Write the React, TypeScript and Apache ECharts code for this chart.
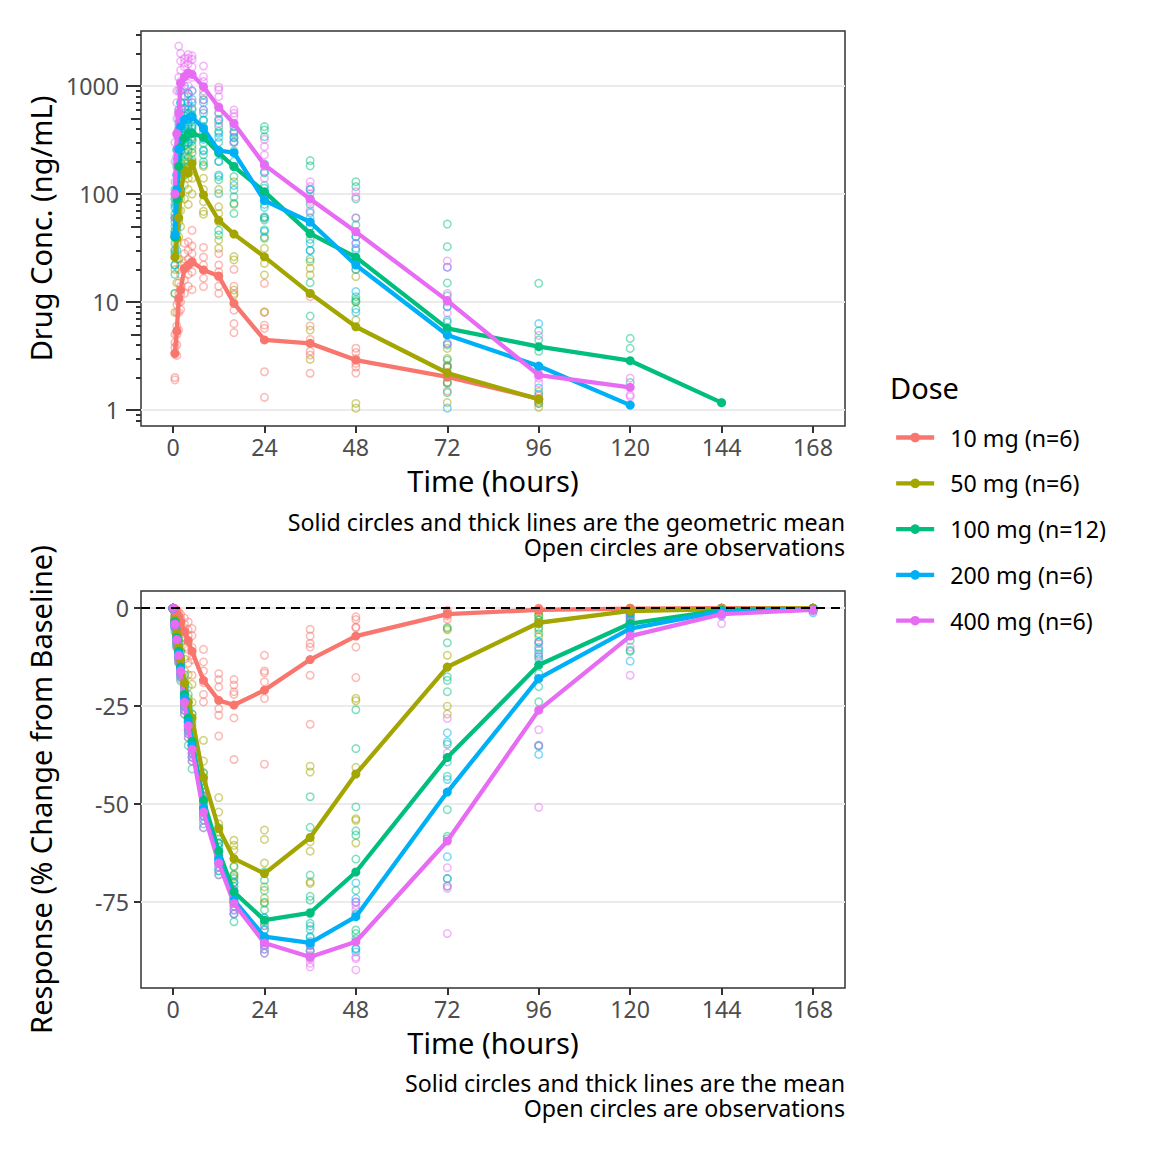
import React, { useEffect, useRef } from "react";
import * as echarts from "echarts";

const FONT = "Noto Sans";

const doseLabels = ["10 mg (n=6)", "50 mg (n=6)", "100 mg (n=12)", "200 mg (n=6)", "400 mg (n=6)"];
const doseColors = ["#F8766D", "#A3A500", "#00BF7D", "#00B0F6", "#E76BF3"];

const xTicks = [0, 24, 48, 72, 96, 120, 144, 168];
const pkMajorTicks = [1, 10, 100, 1000];
const pkMidTicks = [5, 50, 500];
const pkMinorTicks = [0.8, 0.9, 2, 3, 4, 6, 7, 8, 9, 20, 30, 40, 60, 70, 80, 90, 200, 300, 400, 600, 700, 800, 900, 2000, 3000];
const pdTicks = [-75, -50, -25, 0];

// ---------- PK (top) ----------
const pkTimes = [0.5, 1, 1.5, 2, 3, 4, 5, 8, 12, 16, 24, 36, 48, 72, 96, 120, 144];

const pkMean10 = [3.35, 5.4, 10.8, 12.9, 20.5, 22, 23.6, 19.8, 17.4, 9.7, 4.45, 4.14, 2.9, 2.03, 1.27];
const pkMean50 = [26, 39, 60, 100, 167, 156, 192, 98, 57, 42.5, 26.2, 12, 5.9, 2.2, 1.26];
const pkMean100 = [40, 90, 180, 270, 330, 360, 365, 335, 240, 179, 105, 43, 26, 5.7, 3.86, 2.86, 1.17];
const pkMean200 = [42, 110, 260, 420, 490, 500, 520, 404, 252, 241, 87, 55, 22, 4.95, 2.55, 1.11];
const pkMean400 = [100, 364, 560, 1060, 1220, 1320, 1280, 984, 636, 450, 186, 90, 44.6, 10.3, 2.1, 1.62];

const pkObs10 = [
  [1.9, 2.0, 3.3, 3.8, 4.2, 5.0],
  [3.2, 4.0, 5.0, 6.0, 8.0, 9.5],
  [5.5, 8.0, 10, 12, 15, 20],
  [8.5, 10, 12, 14, 18, 22],
  [12, 16, 20, 23, 28, 35],
  [14, 18, 22, 25, 30, 36],
  [13, 19, 23, 28, 33, 46],
  [13.9, 16.6, 19.8, 22, 26, 32],
  [12, 14, 17, 19, 22, 28],
  [5.2, 6.3, 8.4, 12, 14, 20],
  [1.31, 2.26, 5.7, 6.1, 8, 14.9],
  [2.19, 3.23, 3.5, 4.5, 6, 11.2],
  [2.2, 2.5, 2.7, 3.0, 3.4, 3.73],
  [1.5, 1.8, 2.0, 2.2, 2.5, 2.6],
  [1.15, 1.25, 1.35],
];
const pkObs50 = [
  [8, 12, 20, 30, 45, 60],
  [15, 25, 35, 50, 60, 80],
  [25, 40, 55, 70, 90, 120],
  [50, 70, 90, 110, 140, 180],
  [90, 120, 150, 180, 220, 280],
  [80, 110, 140, 170, 200, 250],
  [100, 140, 170, 210, 260, 330],
  [65, 69, 85, 110, 140, 180],
  [31.4, 37.5, 55, 66, 76, 110],
  [11.6, 12.9, 24.5, 26.3, 80, 130],
  [8.1, 17.8, 22.8, 31.4, 40, 60],
  [2.94, 5.5, 12, 17.8, 20.5, 23.6],
  [1.04, 1.15, 6.8, 10, 17.2, 20],
  [1.17, 1.8, 2.1, 2.52, 3.0, 3.72],
  [1.06, 1.2, 1.48],
];
const pkObs100 = [
  [12, 18, 22, 28, 35, 40, 45, 55, 65, 75, 90, 110],
  [30, 45, 60, 70, 80, 95, 110, 130, 150, 180, 220, 260],
  [60, 90, 120, 150, 170, 190, 220, 250, 280, 330, 400, 500],
  [110, 150, 190, 220, 250, 280, 310, 350, 400, 460, 550, 700],
  [150, 200, 240, 280, 320, 350, 380, 420, 470, 530, 620, 800],
  [180, 220, 260, 300, 340, 370, 400, 440, 500, 560, 650, 850],
  [200, 240, 280, 310, 340, 370, 400, 430, 480, 540, 600, 700],
  [186, 199, 230, 255, 295, 330, 370, 420, 480, 560, 742, 826],
  [41.7, 46, 101, 135, 145, 200, 250, 300, 380, 420, 480, 566],
  [66, 82, 94, 109, 145, 180, 200, 250, 300, 335, 365, 420],
  [38.9, 46.4, 57.4, 61.6, 80, 90, 120, 157, 190, 339, 391, 420],
  [7.4, 15.1, 25, 30, 38, 42.6, 50, 60, 80, 110, 182, 204],
  [8.6, 10.1, 10.5, 11.2, 22.8, 30, 40, 51.6, 60, 90, 117, 130],
  [1.45, 1.77, 2.52, 2.9, 4, 5, 6.5, 9.1, 11.4, 15, 32.5, 52.7],
  [1.15, 2.5, 3.5, 4.45, 5.4, 14.9],
  [1.8, 3.72, 4.6],
  [1.17],
];
const pkObs200 = [
  [22, 30, 40, 50, 60, 80],
  [50, 70, 100, 150, 200, 260],
  [120, 180, 250, 350, 450, 600],
  [250, 330, 420, 520, 700, 900],
  [300, 400, 480, 560, 700, 1000],
  [300, 420, 500, 600, 700, 850],
  [320, 420, 520, 620, 750, 900],
  [250, 320, 400, 484, 600, 700],
  [150, 200, 250, 335, 365, 491],
  [120, 180, 240, 305, 330, 380],
  [45, 60, 75, 100, 113, 160],
  [29.9, 35, 50, 67, 90, 110],
  [8, 12.5, 20, 31.4, 34.9, 40.2],
  [1.04, 4.14, 5.5, 6.8, 9, 21],
  [1.4, 1.6, 2.5, 6.3],
  [1.11],
];
const pkObs400 = [
  [40, 60, 90, 130, 200, 300],
  [150, 250, 350, 500, 700, 900],
  [250, 400, 600, 900, 1200, 2340],
  [600, 900, 1100, 1400, 1700, 2000],
  [700, 950, 1200, 1500, 1650, 1800],
  [800, 1000, 1300, 1600, 1800, 1950],
  [700, 900, 1200, 1500, 1767, 1900],
  [600, 750, 900, 1100, 1219, 1531],
  [450, 550, 640, 796, 918, 973],
  [300, 380, 450, 520, 559, 600],
  [100, 140, 180, 230, 274, 320],
  [55, 70, 85, 100, 117, 130],
  [25, 35, 45, 60, 94, 105],
  [4.14, 7.9, 10, 12, 21, 24],
  [1.77, 1.97, 2.2, 4.9],
  [1.33, 1.38, 1.97],
];

// ---------- PD (bottom) ----------
const pdTimes = [0, 0.5, 1, 1.5, 2, 3, 4, 5, 8, 12, 16, 24, 36, 48, 72, 96, 120, 144, 168];

const pdMean10 = [0, -0.5, -1.5, -2.5, -3.5, -6, -8.2, -11, -18.4, -23.5, -24.7, -20.9, -13.1, -7.1, -1.5, -0.4, -0.1, 0, 0];
const pdMean50 = [0, -3, -6.5, -10, -13, -19, -24, -28, -43.2, -56.2, -63.9, -67.7, -58.5, -42.3, -15, -3.7, -0.7, -0.2, 0];
const pdMean100 = [0, -3.5, -7.5, -11, -15, -22, -28, -34, -49, -62, -72.4, -79.6, -77.7, -67.3, -38.1, -14.5, -3.9, -0.5, -0.2];
const pdMean200 = [0, -4, -8, -11.5, -15.5, -23, -29, -35, -51, -64, -74.5, -83.8, -85.4, -78.7, -46.9, -17.9, -5.2, -0.8, -0.3];
const pdMean400 = [0, -4, -8, -12, -16, -24, -30, -36, -52, -65, -75.3, -85.4, -89, -85.1, -59.4, -26, -7.1, -1.5, -0.4];

const pdObs10 = [
  [0, 0, 0, 0, 0, 0],
  [0, -0.3, -0.5, -0.6, -0.8, -1],
  [-0.5, -1, -1.3, -1.6, -2, -2.5],
  [-1, -1.8, -2.3, -2.8, -3.3, -4],
  [-1.5, -2.5, -3.2, -3.8, -4.5, -5.5],
  [-2.5, -4, -5.5, -6.5, -7.5, -10],
  [-3.5, -5.5, -7, -8.5, -10.5, -14],
  [-5.2, -7, -10, -12, -13.1, -17.1],
  [-10.5, -13.7, -16, -19, -22, -23.9],
  [-16.7, -18.2, -20.1, -25.6, -27.3, -32.6],
  [-18.2, -19.6, -21.3, -22, -28, -38.6],
  [-12, -16, -16.5, -18.8, -23, -39.8],
  [-5.4, -7.1, -9, -9.9, -17.1, -29.6],
  [-2.2, -2.9, -4.8, -5, -9.9, -17.7],
  [-0.5, -1, -1.2, -1.5, -2, -2.8],
  [0, 0, -0.3, -0.5, -0.5, -0.8],
  [0, 0, 0, -0.1, -0.2, -0.3],
  [0, 0, 0, 0, 0, 0],
  [0, 0, 0, 0, 0, 0],
];
const pdObs50 = [
  [0, 0, 0, 0, 0, 0],
  [-1.5, -2, -2.5, -3, -3.5, -4.5],
  [-4, -5, -6, -7, -8, -9],
  [-6.5, -8, -9.5, -11, -12, -13.5],
  [-9, -11, -12.5, -14, -15.5, -16],
  [-13, -16, -18, -20, -22, -25],
  [-17, -20, -23, -25, -28, -31],
  [-19.4, -24, -27, -30, -33, -35],
  [-33.7, -39, -42, -45, -48, -51],
  [-48.3, -52, -55, -57, -60, -63],
  [-59.2, -60.5, -61.7, -65.8, -68, -68.5],
  [-56.6, -59, -65, -71.1, -74, -75.3],
  [-40.3, -41.8, -59.6, -62, -69.8, -70.2],
  [-23, -23.6, -40.6, -53.7, -54.1, -59.9],
  [-5.2, -5.5, -12, -15, -25, -27],
  [-1, -2, -3, -4, -5.5, -7.3],
  [0, -0.5, -0.7, -1, -1.2, -1.5],
  [0, 0, -0.2, -0.3, -0.3, -0.4],
  [0, 0, 0, -0.1, -0.1, -0.2],
];
const pdObs100 = [
  [0, 0, 0, 0, 0, 0, 0, 0, 0, 0, 0, 0],
  [-2, -2.5, -3, -3, -3.5, -3.5, -4, -4, -4.5, -5, -5, -6],
  [-5, -6, -6.5, -7, -7, -7.5, -8, -8, -8.5, -9, -9.5, -10],
  [-8, -9, -10, -10.5, -11, -11, -11.5, -12, -12, -12.5, -13, -14],
  [-11, -12.5, -13.5, -14, -14.5, -15, -15.5, -16, -16.5, -17, -17.5, -18.5],
  [-17, -19, -20, -21, -21.5, -22, -22.5, -23, -24, -25, -26, -27],
  [-22, -24, -25.5, -26.5, -27.5, -28, -28.5, -29.5, -30.5, -31.5, -33, -35],
  [-27, -29, -31, -32, -33, -34, -35, -36, -37, -38, -39, -41],
  [-42, -44, -46, -47, -48, -49, -50, -51, -52, -53, -54, -56],
  [-56, -58, -59, -60, -61, -62, -63, -64, -65, -66, -67, -68],
  [-66, -68, -69, -70, -71, -72, -73, -74, -75, -76, -78, -80],
  [-67.3, -69.4, -72, -75, -77, -79, -80, -81, -82.1, -84, -86, -88],
  [-48.1, -55.9, -68.1, -73.5, -74.5, -78, -80.4, -82, -84, -86, -87.2, -89],
  [-25.9, -35.8, -50.7, -56.8, -57.9, -64, -72, -78, -82.1, -83, -84.3, -87],
  [-4.9, -8.8, -17.5, -18.4, -21.3, -34.7, -42.9, -51.4, -58.2, -58.8, -69, -70.9],
  [-1.8, -3, -5, -6.5, -8.6, -10, -11.6, -13, -16.7, -20, -23.9, -35],
  [-0.5, -1, -1.4, -2, -2.5, -3, -3.5, -4, -5, -8.2, -10.7, -11],
  [0, 0, -0.1, -0.2, -0.3, -0.4, -0.5, -0.6, -0.8, -1, -1.2, -1.5],
  [0, 0, 0, 0, -0.1, -0.1, -0.2, -0.2, -0.3, -0.3, -0.4, -0.5],
];
const pdObs200 = [
  [0, 0, 0, 0, 0, 0],
  [-3, -3.5, -4, -4, -4.5, -5],
  [-6.5, -7, -8, -8.5, -9, -9.5],
  [-10, -10.5, -11.5, -12, -12.5, -13],
  [-13.5, -14.5, -15.5, -16, -16.5, -17.5],
  [-20, -21.5, -23, -24, -25, -26],
  [-26, -27.5, -29, -30, -31, -32],
  [-32, -33.5, -35, -36, -37, -38],
  [-47, -49, -51, -52, -53, -55],
  [-60, -62, -63, -64, -65, -67],
  [-70, -72, -74, -75, -77, -78],
  [-79, -82, -84, -85, -86, -87],
  [-81.1, -83.8, -85, -86, -87.5, -89],
  [-70.1, -74.1, -75, -78.3, -86.8, -87.7],
  [-31.8, -34.1, -39.2, -43.7, -63.4, -69],
  [-4, -8.6, -10.7, -12.4, -35.2, -37.3],
  [-1.5, -2.2, -3, -4, -6, -13.5],
  [0, -0.3, -0.5, -0.8, -1.2, -2],
  [0, 0, -0.2, -0.3, -0.5, -1.2],
];
const pdObs400 = [
  [0, 0, 0, 0, 0, 0],
  [-3, -3.5, -4, -4.5, -4.5, -5],
  [-6.5, -7.5, -8, -8.5, -9, -10],
  [-10, -11, -12, -12.5, -13, -14],
  [-14, -15, -16, -16.5, -17, -18],
  [-21, -22.5, -24, -25, -26, -27],
  [-27, -28.5, -30, -31, -32, -33],
  [-33, -34.5, -36, -37, -38, -39],
  [-48, -50, -52, -53, -54, -56],
  [-62, -63, -64, -65, -66, -68],
  [-72, -74, -75, -76, -77, -78],
  [-81, -84, -85, -86, -87, -88],
  [-86, -87.5, -88.5, -89.5, -90.6, -91.5],
  [-74.9, -75.8, -77, -89, -89.4, -92.3],
  [-28.1, -36.9, -66.2, -70.9, -71.5, -83],
  [-9, -12, -18, -31, -35, -50.8],
  [-2, -3.5, -5, -5.5, -9.9, -17.1],
  [-0.5, -1, -1.2, -1.5, -1.8, -3.9],
  [0, -0.1, -0.2, -0.3, -0.5, -0.8],
];

const pkMeans = [pkMean10, pkMean50, pkMean100, pkMean200, pkMean400];
const pkObs = [pkObs10, pkObs50, pkObs100, pkObs200, pkObs400];
const pdMeans = [pdMean10, pdMean50, pdMean100, pdMean200, pdMean400];
const pdObs = [pdObs10, pdObs50, pdObs100, pdObs200, pdObs400];

function pairs(times: number[], vals: number[]) {
  return vals.map((v, i) => [times[i], v]);
}
function obsPairs(times: number[], obs: number[][]) {
  const out: number[][] = [];
  obs.forEach((arr, i) => arr.forEach((v) => out.push([times[i], v])));
  return out;
}

const TICK_COLOR = "#333333";
const LABEL_COLOR = "#4D4D4D";
const GRID_COLOR = "#EBEBEB";
const SMALL = 23.2;
const BIG = 29;

function xAxisFor(gridIndex: number) {
  return {
    type: "value",
    gridIndex,
    min: -8.4,
    max: 176.4,
    position: "bottom",
    axisLine: { show: false, onZero: false },
    axisTick: { show: true, length: 7, customValues: xTicks, lineStyle: { color: TICK_COLOR, width: 2 } },
    axisLabel: { customValues: xTicks, fontSize: SMALL, color: LABEL_COLOR, margin: 9, fontFamily: FONT },
    splitLine: { show: false },
    name: "Time (hours)",
    nameLocation: "middle",
    nameGap: 39.5,
    nameTextStyle: { fontSize: BIG, color: "#000", fontFamily: FONT },
  };
}

function pkYAxis(ticks: number[], length: number, withLabels: boolean) {
  return {
    type: "log",
    logBase: 10,
    gridIndex: 0,
    position: "left",
    offset: 0,
    min: 0.711,
    max: 3228,
    axisLine: { show: false, onZero: false },
    axisTick: { show: true, length, customValues: ticks, lineStyle: { color: TICK_COLOR, width: 2 } },
    axisLabel: withLabels
      ? { show: true, customValues: ticks, fontSize: SMALL, color: LABEL_COLOR, margin: 22, fontFamily: FONT, formatter: (v: number) => String(v) }
      : { show: false },
    splitLine: withLabels ? { show: true, lineStyle: { color: GRID_COLOR, width: 2 } } : { show: false },
  };
}

export default function App() {
  const ref = useRef<HTMLDivElement>(null);

  useEffect(() => {
    document.body.style.margin = "0";
    if (!ref.current) return;
    const chart = echarts.init(ref.current, undefined, { renderer: "svg" });

    const series: any[] = [];

    // zero dashed line (bottom panel)
    series.push({
      type: "line",
      xAxisIndex: 1,
      yAxisIndex: 3,
      data: [],
      z: 1,
      silent: true,
      markLine: {
        silent: true,
        symbol: ["none", "none"],
        label: { show: false },
        lineStyle: { color: "#000", type: [9, 6], width: 2 },
        data: [{ yAxis: 0 }],
      },
    });

    doseLabels.forEach((name, d) => {
      const color = doseColors[d];
      const obsStyle = {
        color: "rgba(255,255,255,0)",
        borderColor: color,
        borderWidth: 1.5,
        opacity: 0.5,
      };
      series.push({
        type: "scatter",
        name: "obs-pk-" + d,
        xAxisIndex: 0,
        yAxisIndex: 0,
        data: obsPairs(pkTimes, pkObs[d]),
        symbol: "circle",
        symbolSize: 7.5,
        itemStyle: obsStyle,
        silent: true,
        z: 2,
      });
      series.push({
        type: "scatter",
        name: "obs-pd-" + d,
        xAxisIndex: 1,
        yAxisIndex: 3,
        data: obsPairs(pdTimes, pdObs[d]),
        symbol: "circle",
        symbolSize: 7.5,
        itemStyle: obsStyle,
        silent: true,
        z: 2,
      });
    });

    doseLabels.forEach((name, d) => {
      const color = doseColors[d];
      series.push({
        type: "line",
        name,
        xAxisIndex: 0,
        yAxisIndex: 0,
        data: pairs(pkTimes, pkMeans[d]),
        symbol: "circle",
        symbolSize: 9,
        showSymbol: true,
        lineStyle: { color, width: 4.3 },
        itemStyle: { color },
        silent: true,
        z: 3,
      });
      series.push({
        type: "line",
        name,
        xAxisIndex: 1,
        yAxisIndex: 3,
        data: pairs(pdTimes, pdMeans[d]),
        symbol: "circle",
        symbolSize: 9,
        showSymbol: true,
        lineStyle: { color, width: 4.3 },
        itemStyle: { color },
        silent: true,
        z: 3,
      });
    });

    const option: any = {
      animation: false,
      backgroundColor: "#FFFFFF",
      textStyle: { fontFamily: FONT },
      grid: [
        { left: 141, top: 31, width: 704, height: 395, show: true, borderColor: TICK_COLOR, borderWidth: 1.5, backgroundColor: "rgba(0,0,0,0)" },
        { left: 141, top: 591, width: 704, height: 397, show: true, borderColor: TICK_COLOR, borderWidth: 1.5, backgroundColor: "rgba(0,0,0,0)" },
      ],
      xAxis: [xAxisFor(0), xAxisFor(1)],
      yAxis: [
        pkYAxis(pkMajorTicks, 15, true),
        pkYAxis(pkMidTicks, 10, false),
        pkYAxis(pkMinorTicks, 5, false),
        {
          type: "value",
          gridIndex: 1,
          position: "left",
          min: -96.9,
          max: 4.4,
          axisLine: { show: false, onZero: false },
          axisTick: { show: true, length: 7, customValues: pdTicks, lineStyle: { color: TICK_COLOR, width: 2 } },
          axisLabel: { customValues: pdTicks, fontSize: SMALL, color: LABEL_COLOR, margin: 12, fontFamily: FONT },
          splitLine: { show: true, lineStyle: { color: GRID_COLOR, width: 2 } },
        },
      ],
      legend: {
        data: doseLabels,
        orient: "vertical",
        left: 889,
        top: 421,
        itemWidth: 38,
        itemHeight: 12,
        itemGap: 22.8,
        selectedMode: false,
        lineStyle: { width: 4.3 },
        textStyle: { fontSize: SMALL, color: "#000", fontFamily: FONT, padding: [0, 0, 0, 11] },
      },
      graphic: [
        { type: "text", x: 890, y: 387, style: { text: "Dose", fontSize: BIG, fontFamily: FONT, fill: "#000", align: "left", verticalAlign: "middle" } },
        { type: "text", x: 40, y: 228.5, rotation: Math.PI / 2, style: { text: "Drug Conc. (ng/mL)", fontSize: BIG, fontFamily: FONT, fill: "#000", align: "center", verticalAlign: "middle" } },
        { type: "text", x: 40, y: 789.5, rotation: Math.PI / 2, style: { text: "Response (% Change from Baseline)", fontSize: BIG, fontFamily: FONT, fill: "#000", align: "center", verticalAlign: "middle" } },
        { type: "text", x: 845, y: 534.5, style: { text: "Solid circles and thick lines are the geometric mean\nOpen circles are observations", fontSize: SMALL, lineHeight: 25, fontFamily: FONT, fill: "#000", align: "right", verticalAlign: "middle" } },
        { type: "text", x: 845, y: 1095.5, style: { text: "Solid circles and thick lines are the mean\nOpen circles are observations", fontSize: SMALL, lineHeight: 25, fontFamily: FONT, fill: "#000", align: "right", verticalAlign: "middle" } },
      ],
      series,
    };

    chart.setOption(option);
    return () => {
      chart.dispose();
    };
  }, []);

  return <div ref={ref} style={{ width: 1152, height: 1152 }} />;
}
